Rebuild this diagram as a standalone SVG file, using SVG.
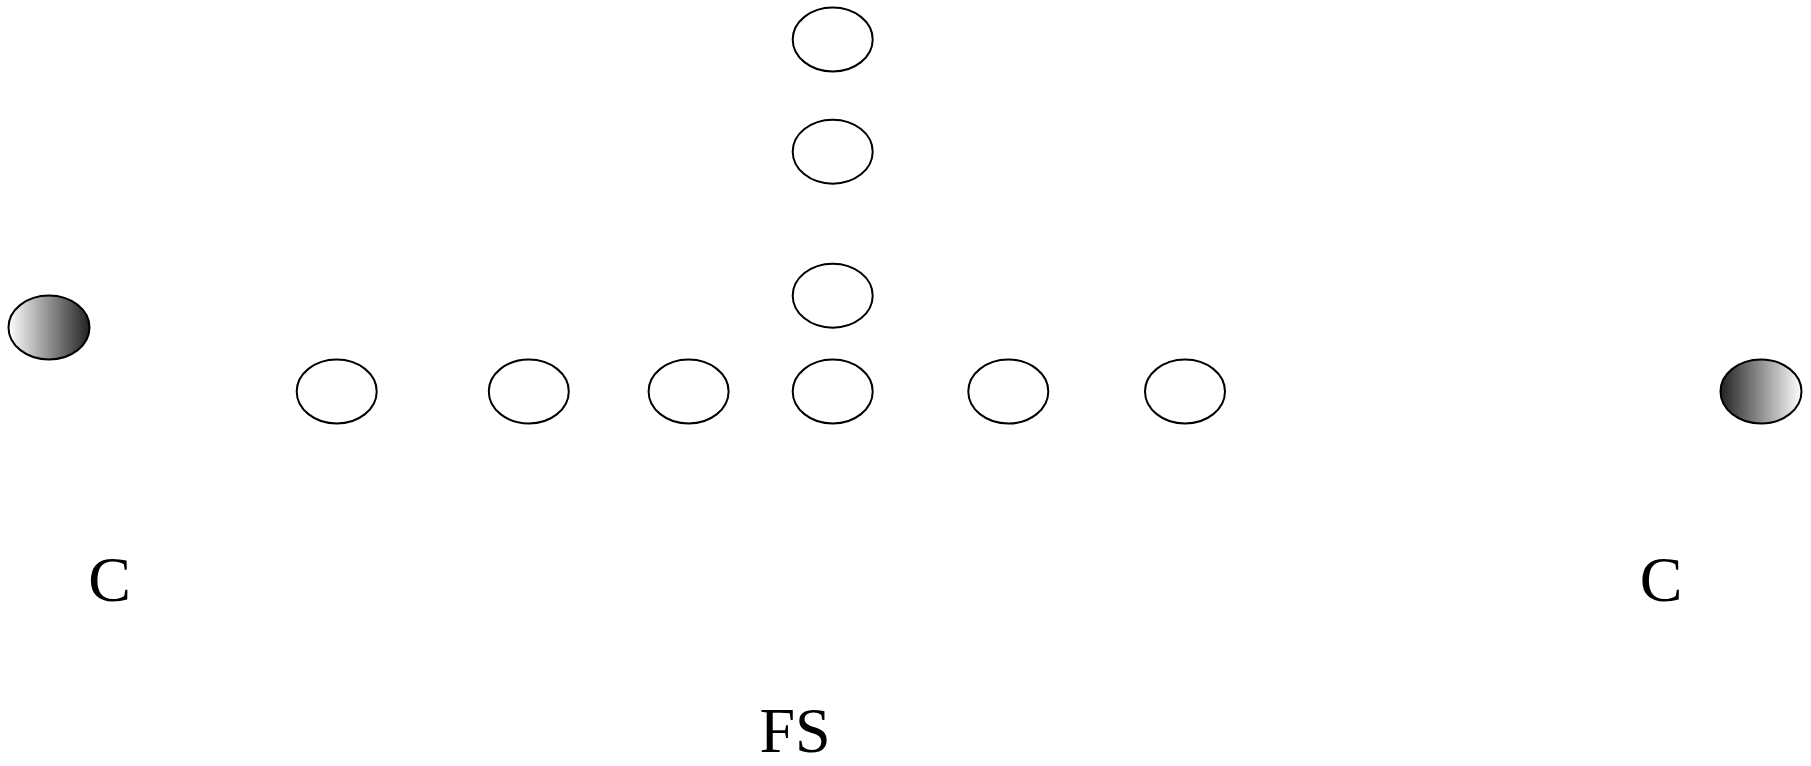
<svg xmlns="http://www.w3.org/2000/svg" width="1811" height="766" viewBox="0 0 1811 766">
<style>
.n{fill:#fff;stroke:#000;stroke-width:2}
.g{stroke:#000;stroke-width:2}
.t{font-family:"Liberation Serif","Times New Roman",serif;font-size:64px;fill:#000}
</style>
<defs>
<linearGradient id="wd" x1="0" y1="0" x2="1" y2="0">
<stop offset="0" stop-color="#fff"/><stop offset="1" stop-color="#222"/>
</linearGradient>
<linearGradient id="dw" x1="0" y1="0" x2="1" y2="0">
<stop offset="0" stop-color="#222"/><stop offset="1" stop-color="#fff"/>
</linearGradient>
</defs>
<rect width="1811" height="766" fill="#fff"/>
<g id="connectors"/>
<g id="v1"><ellipse class="n" cx="832.7" cy="39.5" rx="40" ry="32"/></g>
<g id="v2"><ellipse class="n" cx="832.7" cy="151.7" rx="40" ry="32"/></g>
<g id="v3"><ellipse class="n" cx="832.7" cy="295.7" rx="40" ry="32"/></g>
<g id="h1"><ellipse class="n" cx="336.7" cy="391.5" rx="40" ry="32"/></g>
<g id="h2"><ellipse class="n" cx="528.8" cy="391.5" rx="40" ry="32"/></g>
<g id="h3"><ellipse class="n" cx="688.6" cy="391.5" rx="40" ry="32"/></g>
<g id="h4"><ellipse class="n" cx="832.7" cy="391.5" rx="40" ry="32"/></g>
<g id="h5"><ellipse class="n" cx="1008.3" cy="391.5" rx="40" ry="32"/></g>
<g id="h6"><ellipse class="n" cx="1185" cy="391.5" rx="40" ry="32"/></g>
<g id="gl"><ellipse class="g" fill="url(#wd)" cx="49" cy="327.5" rx="40.5" ry="32"/></g>
<g id="gr"><ellipse class="g" fill="url(#dw)" cx="1761" cy="391.5" rx="40.5" ry="32"/></g>
<g id="c1"><text class="t" x="109.7" y="600.7" text-anchor="middle">C</text></g>
<g id="c2"><text class="t" x="1661" y="600.7" text-anchor="middle">C</text></g>
<g id="fs"><text class="t" x="795" y="752" text-anchor="middle">FS</text></g>
</svg>
